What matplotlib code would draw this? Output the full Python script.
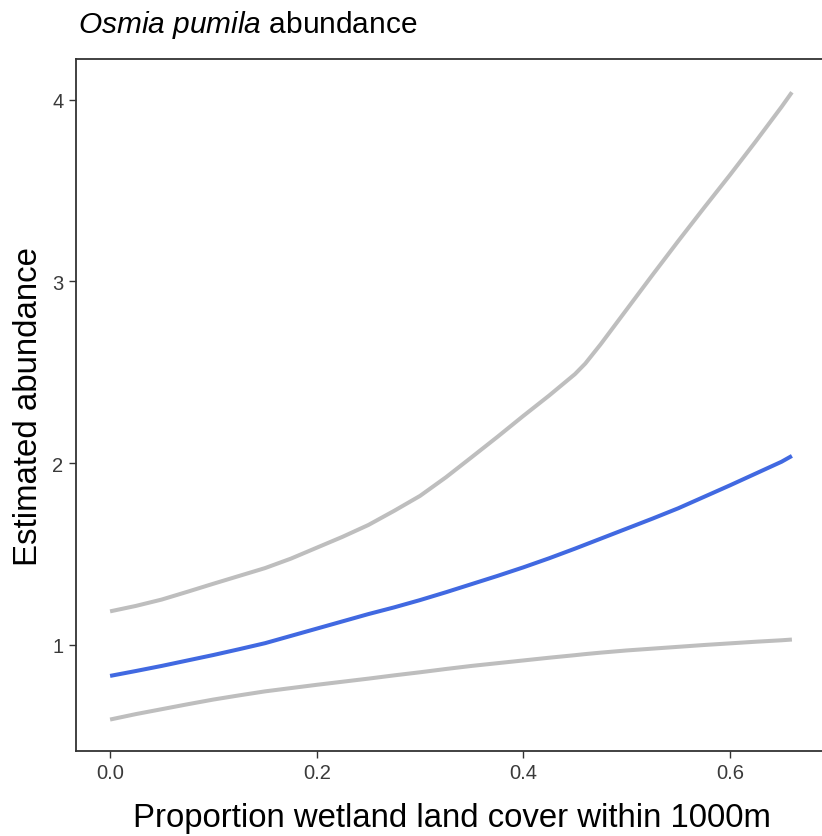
import matplotlib
matplotlib.use("Agg")
import matplotlib.pyplot as plt

plt.rcParams['font.family'] = ['Liberation Sans', 'DejaVu Sans']
plt.rcParams['mathtext.fontset'] = 'custom'
plt.rcParams['mathtext.rm'] = 'Liberation Sans'
plt.rcParams['mathtext.it'] = 'Liberation Sans:italic'

# Proporción de humedal y abundancia estimada
x_prop = [0.0, 0.025, 0.05, 0.075, 0.10, 0.125, 0.15, 0.175, 0.20, 0.225, 0.25,
          0.275, 0.30, 0.325, 0.35, 0.375, 0.40, 0.425, 0.45, 0.46, 0.475, 0.50,
          0.525, 0.55, 0.575, 0.60, 0.625, 0.65, 0.66]
abund_fit = [0.83, 0.857, 0.885, 0.915, 0.945, 0.977, 1.01, 1.05, 1.09, 1.13, 1.17,
             1.207, 1.247, 1.29, 1.335, 1.38, 1.427, 1.477, 1.53, 1.552, 1.585, 1.64,
             1.695, 1.752, 1.815, 1.878, 1.943, 2.008, 2.04]
abund_upper = [1.185, 1.215, 1.25, 1.293, 1.337, 1.38, 1.423, 1.475, 1.535, 1.595, 1.66,
               1.738, 1.82, 1.922, 2.033, 2.145, 2.26, 2.372, 2.49, 2.548, 2.655, 2.845,
               3.035, 3.222, 3.405, 3.585, 3.77, 3.96, 4.04]
abund_lower = [0.59, 0.62, 0.647, 0.674, 0.70, 0.723, 0.745, 0.763, 0.781, 0.798, 0.815,
               0.833, 0.85, 0.868, 0.885, 0.90, 0.915, 0.93, 0.944, 0.95, 0.958, 0.97,
               0.98, 0.99, 1.0, 1.009, 1.018, 1.026, 1.03]

x_ticks = [0.0, 0.2, 0.4, 0.6]
x_ticklabels = ['0.0', '0.2', '0.4', '0.6']
y_ticks = [1, 2, 3, 4]

W, H = 822, 837
fig = plt.figure(figsize=(W / 100, H / 100), dpi=100)
ax = fig.add_axes([76 / W, 1 - 752 / H, (826 - 76) / W, (752 - 60) / H])

ax.plot(x_prop, abund_upper, color='#BEBEBE', linewidth=2.9, solid_capstyle='butt')
ax.plot(x_prop, abund_lower, color='#BEBEBE', linewidth=2.9, solid_capstyle='butt')
ax.plot(x_prop, abund_fit, color='#4169E1', linewidth=2.9, solid_capstyle='butt')

ax.set_xlim(-0.033, 0.693)
ax.set_ylim(0.417, 4.223)
ax.set_xticks(x_ticks)
ax.set_xticklabels(x_ticklabels)
ax.set_yticks(y_ticks)
ax.tick_params(axis='both', length=5, width=1, color='#333333', labelsize=14.5,
               labelcolor='#3A3A3A', pad=4)
for s in ax.spines.values():
    s.set_color('#333333')
    s.set_linewidth(1.3)

fig.text(78 / W, 1 - 33 / H, r'$\it{Osmia\ pumila}$ abundance', fontsize=21.5,
         ha='left', va='baseline', color='black')
fig.text(452 / W, 1 - 827 / H, 'Proportion wetland land cover within 1000m',
         fontsize=23.7, ha='center', va='baseline', color='black')
fig.text(29 / W, 1 - 406 / H, 'Estimated abundance', fontsize=23.8, rotation=90,
         ha='center', va='center', color='black')

fig.savefig('out.png', dpi=100)
